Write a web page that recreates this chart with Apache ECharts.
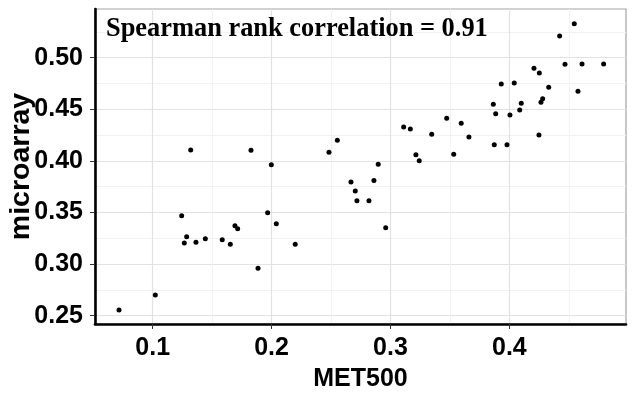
<!DOCTYPE html>
<html>
<head>
<meta charset="utf-8">
<script src="https://cdn.jsdelivr.net/npm/echarts@6/dist/echarts.min.js"></script>
<style>
html,body{margin:0;padding:0;background:#fff;}
#chart{width:632px;height:397px;}
</style>
</head>
<body>
<div id="chart"></div>
<script>
// MET500 values (x)
const met500 = [
  0.0717, 0.1022, 0.1244, 0.1266, 0.1286, 0.1364, 0.1443, 0.1585, 0.1653, 0.1692,
  0.1715, 0.1886, 0.1967, 0.2040, 0.2199, 0.1320, 0.1827, 0.1998,
  0.2483, 0.2553, 0.2668, 0.2704, 0.2718, 0.2819, 0.2861, 0.2897, 0.2960, 0.3111,
  0.3167, 0.3214, 0.3242, 0.3347, 0.3473, 0.3532, 0.3595, 0.3660, 0.3865, 0.3885,
  0.3873, 0.3932, 0.3980, 0.4005, 0.4041, 0.4087, 0.4100, 0.4207, 0.4252, 0.4249,
  0.4266, 0.4280, 0.4331, 0.4423, 0.4468, 0.4546, 0.4577, 0.4611, 0.4793
];
// microarray values (y)
const microarray = [
  0.2555, 0.2700, 0.3469, 0.3204, 0.3266, 0.3211, 0.3246, 0.3236, 0.3192, 0.3372,
  0.3343, 0.2959, 0.3498, 0.3391, 0.3192, 0.4106, 0.4103, 0.3963,
  0.4083, 0.4200, 0.3796, 0.3708, 0.3614, 0.3614, 0.3810, 0.3967, 0.3353, 0.4329,
  0.4309, 0.4060, 0.4002, 0.4258, 0.4413, 0.4064, 0.4364, 0.4232, 0.4548, 0.4457,
  0.4157, 0.4745, 0.4157, 0.4445, 0.4755, 0.4493, 0.4558, 0.4897, 0.4852, 0.4251,
  0.4568, 0.4603, 0.4713, 0.5210, 0.4936, 0.5329, 0.4674, 0.4939, 0.4939
];
// tick values and labels
const xMajorTicks = [0.1, 0.2, 0.3, 0.4];
const xMinorTicks = [0.15, 0.25, 0.35, 0.45];
const yMajorTicks = [0.25, 0.30, 0.35, 0.40, 0.45, 0.50];
const yMinorTicks = [0.275, 0.325, 0.375, 0.425, 0.475, 0.525];
const xRange = [0.0515, 0.4981];
const yRange = [0.242, 0.5472];
const annotation = 'Spearman rank correlation = 0.91';
const xTitle = 'MET500';
const yTitle = 'microarray';

const points = met500.map((x, i) => [x, microarray[i]]);
const sans = "'Liberation Sans', Arial, sans-serif";
const majorColor = '#e2e2e2';
const minorColor = '#f2f2f2';

const chart = echarts.init(document.getElementById('chart'), null, {renderer: 'canvas'});
chart.setOption({
  animation: false,
  backgroundColor: '#ffffff',
  grid: {left: 95, right: 6, top: 9, bottom: 73, outerBoundsMode: 'none', containLabel: false,
    show: true, borderColor: '#a3a3a3', borderWidth: 1.2, backgroundColor: 'transparent'},
  xAxis: [
    {
      type: 'value', min: xRange[0], max: xRange[1], position: 'bottom',
      axisLine: {show: true, onZero: false, lineStyle: {color: '#000', width: 2.6}},
      axisTick: {show: true, length: 5, lineStyle: {color: '#333', width: 1}, customValues: xMajorTicks},
      axisLabel: {customValues: xMajorTicks, margin: 12, color: '#000', fontWeight: 'bold', fontSize: 25, fontFamily: sans,
        formatter: v => v.toFixed(1)},
      splitLine: {show: true, lineStyle: {color: majorColor, width: 1.2}},
      name: xTitle, nameLocation: 'middle', nameGap: 43, nameMoveOverlap: false,
      nameTextStyle: {color: '#000', fontWeight: 'bold', fontSize: 25, fontFamily: sans}
    },
    {
      type: 'value', min: xRange[0], max: xRange[1], position: 'top',
      axisLine: {show: false}, axisLabel: {show: false},
      axisTick: {show: false, customValues: xMinorTicks},
      splitLine: {show: true, lineStyle: {color: minorColor, width: 1}}
    }
  ],
  yAxis: [
    {
      type: 'value', min: yRange[0], max: yRange[1], position: 'left',
      axisLine: {show: true, onZero: false, lineStyle: {color: '#000', width: 2.6}},
      axisTick: {show: true, length: 5, lineStyle: {color: '#333', width: 1}, customValues: yMajorTicks},
      axisLabel: {customValues: yMajorTicks, margin: 12, color: '#000', fontWeight: 'bold', fontSize: 25, fontFamily: sans,
        formatter: v => v.toFixed(2)},
      splitLine: {show: true, lineStyle: {color: majorColor, width: 1.2}},
      name: yTitle, nameLocation: 'middle', nameGap: 59, nameRotate: 90, nameMoveOverlap: false,
      nameTextStyle: {color: '#000', fontWeight: 'bold', fontSize: 28.5, fontFamily: sans}
    },
    {
      type: 'value', min: yRange[0], max: yRange[1], position: 'right',
      axisLine: {show: false}, axisLabel: {show: false},
      axisTick: {show: false, customValues: yMinorTicks},
      splitLine: {show: true, lineStyle: {color: minorColor, width: 1}}
    }
  ],
  graphic: [{
    type: 'text', left: 106, top: 16, z: 10,
    style: {text: annotation, fill: '#000', font: "bold 26.4px 'Liberation Serif', 'Times New Roman', serif"}
  }],
  series: [{
    type: 'scatter', xAxisIndex: 0, yAxisIndex: 0,
    data: points, symbol: 'circle', symbolSize: 5,
    itemStyle: {color: '#000', opacity: 1}
  }]
});
</script>
</body>
</html>
